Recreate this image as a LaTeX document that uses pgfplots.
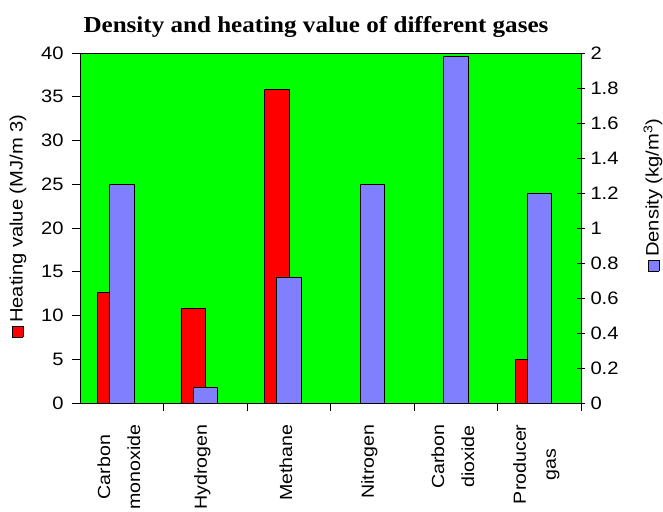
\documentclass[border=0pt]{standalone}
\usepackage{pgfplots}
\pgfplotsset{compat=1.18}
\usepackage{fontspec}
\setmainfont{Liberation Sans}[FakeStretch=1.12]
\newfontfamily\titlefont{Liberation Serif}[FakeStretch=1.1]
\definecolor{bggreen}{HTML}{00FF00}
\definecolor{barred}{HTML}{FF0000}
\definecolor{barblue}{HTML}{8080FF}
\newcommand{\legsq}[1]{{\setlength\fboxsep{0pt}\setlength\fboxrule{0.8pt}\fcolorbox{black}{#1}{\rule{0pt}{10pt}\rule{10pt}{0pt}}}}
\pgfplotstableread{
x heat
0 12.6
1 10.8
2 35.8
5 5.0
}\heatdata
\pgfplotstableread{
x dens
0 1.25
1 0.09
2 0.72
3 1.25
4 1.98
5 1.20
}\densdata
\begin{document}
\begin{tikzpicture}[x=1pt,y=1pt]
\useasboundingbox (-80,-108) rectangle (583,403);
\pgfplotsset{
  common/.style={
    scale only axis,
    width=501pt, height=350pt, xmin=-0.5, xmax=5.5,
    /pgf/number format/assume math mode=true,
    tick label style={font=\fontsize{18}{20}\selectfont},
    axis line style={black, line width=0.8pt},
    every tick/.style={black, line width=0.8pt},
  }
}
\begin{axis}[common,
  ymin=0, ymax=40, ytick={0,5,...,40},
  ytick pos=left, yticklabel pos=left,
  yticklabel style={xshift=-5pt},
  axis background/.style={fill=bggreen},
  xtick={0.5,1.5,...,5.5}, xticklabels={}, xtick pos=left,
  tick align=outside, major tick length=8pt,
  extra x ticks={0,1,2,3,4,5},
  extra x tick labels={Carbon\\monoxide, Hydrogen, Methane, Nitrogen, Carbon\\dioxide, Producer\\gas},
  extra x tick style={major tick length=0pt,
    tick label style={rotate=90, anchor=east, align=center,
      font=\fontsize{17.5}{30}\selectfont, xshift=-18pt, yshift=3pt}},
]
\addplot[ybar, bar width=24.5pt, bar shift=-12pt, fill=barred, draw=black, line width=0.8pt] table[x=x,y=heat] {\heatdata};
\end{axis}
\begin{axis}[common,
  ymin=0, ymax=2, ytick={0,0.2,0.4,0.6,0.8,1,1.2,1.4,1.6,1.8,2},
  xtick=\empty,
  ytick pos=right, yticklabel pos=right,
  tick align=center, major tick length=8pt,
  yticklabel style={/pgf/number format/fixed, xshift=2pt},
]
\addplot[ybar, bar width=24.5pt, bar shift=0pt, fill=barblue, draw=black, line width=0.8pt] table[x=x,y=dens] {\densdata};
\end{axis}
\node[anchor=base, font=\titlefont\bfseries\fontsize{22.8}{24}\selectfont] at (236,370) {Density and heating value of different gases};
\node[rotate=90, inner sep=0pt, font=\fontsize{18}{20}\selectfont] at (-62,177) {\legsq{barred}\,Heating value (MJ/m 3)};
\node[rotate=90, inner sep=0pt, font=\fontsize{18}{20}\selectfont] at (573,208) {\legsq{barblue}\,Density (kg/m\textsuperscript{3})};
\end{tikzpicture}
\end{document}
